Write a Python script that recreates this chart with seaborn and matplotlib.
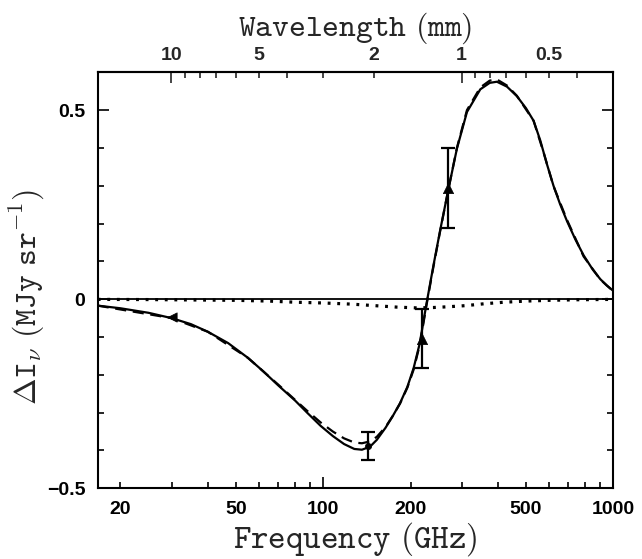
import numpy as np
import pandas as pd
import matplotlib
matplotlib.use("Agg")
import matplotlib.pyplot as plt
import seaborn as sns
from matplotlib.ticker import FixedLocator, FuncFormatter

# ---------------- data ----------------
freq_solid = [16.7, 20, 25, 30, 35, 40, 47, 55, 62, 70, 80, 88, 98, 108, 118, 128,
              136, 145, 153, 164, 174, 184, 195, 205, 215, 227, 240, 253, 270, 289,
              313, 348, 375, 397, 430, 465, 500, 531, 560, 590, 622, 655, 692, 740,
              790, 850, 902, 950, 1000]
dI_solid = [-0.017, -0.024, -0.036, -0.050, -0.066, -0.086, -0.116, -0.155, -0.190,
            -0.228, -0.268, -0.300, -0.335, -0.362, -0.383, -0.396, -0.398, -0.390,
            -0.372, -0.340, -0.308, -0.275, -0.232, -0.182, -0.118, -0.012, 0.090,
            0.182, 0.290, 0.398, 0.495, 0.555, 0.572, 0.575, 0.562, 0.537, 0.505,
            0.472, 0.420, 0.358, 0.300, 0.252, 0.207, 0.158, 0.116, 0.078, 0.053,
            0.036, 0.022]

freq_dashed = [16.7, 30, 40, 55, 70, 88, 98, 108, 118, 128, 136, 145, 153, 164, 174,
               184, 195, 205, 215, 227, 240, 253, 270, 289, 313, 348, 375, 397, 430,
               465, 531, 575, 622, 692, 790, 902, 1000]
dI_dashed = [-0.017, -0.050, -0.086, -0.155, -0.226, -0.295, -0.326, -0.350, -0.368,
             -0.379, -0.381, -0.376, -0.364, -0.338, -0.308, -0.276, -0.234, -0.186,
             -0.122, -0.016, 0.087, 0.180, 0.290, 0.400, 0.500, 0.560, 0.578, 0.581,
             0.565, 0.538, 0.472, 0.388, 0.299, 0.210, 0.113, 0.052, 0.021]

freq_kin = [16.7, 25, 35, 50, 65, 80, 100, 125, 150, 180, 210, 240, 270, 310, 360,
            420, 500, 600, 750, 1000]
dI_kin = [-0.0005, -0.001, -0.002, -0.003, -0.005, -0.008, -0.010, -0.013, -0.017,
          -0.021, -0.023, -0.022, -0.020, -0.017, -0.012, -0.008, -0.005, -0.003,
          -0.0015, -0.0005]

pt_freq = [30, 143, 219, 270]
pt_dI = [-0.048, -0.387, -0.105, 0.293]
pt_err = [0.0, 0.037, 0.078, 0.106]
pt_kind = ["arrow", "dot", "tri", "tri"]

x_ticks_labeled = [20, 50, 100, 200, 500, 1000]
lam_ticks_labeled = [10, 5, 2, 1, 0.5]
y_ticks = [-0.5, 0, 0.5]
y_ticklabels = ["\u22120.5", "0", "0.5"]

C_MM_GHZ = 299.79

# ---------------- style ----------------
sns.set_style("ticks")
plt.rcParams["font.family"] = ["DejaVu Sans"]
plt.rcParams["mathtext.fontset"] = "cm"

fig = plt.figure(figsize=(6.42, 5.59), dpi=100)
ax = fig.add_axes([0.1522, 0.1265, 0.8031, 0.7442])

df_s = pd.DataFrame({"nu": freq_solid, "dI": dI_solid})
df_d = pd.DataFrame({"nu": freq_dashed, "dI": dI_dashed})
df_k = pd.DataFrame({"nu": freq_kin, "dI": dI_kin})

ax.axhline(0, color="black", lw=1.3, zorder=1)
sns.lineplot(data=df_s, x="nu", y="dI", ax=ax, color="black", lw=1.6,
             sort=False, estimator=None, zorder=3)
sns.lineplot(data=df_d, x="nu", y="dI", ax=ax, color="black", lw=1.6,
             linestyle=(0, (5, 3)), sort=False, estimator=None, zorder=3)
sns.lineplot(data=df_k, x="nu", y="dI", ax=ax, color="black", lw=2.3,
             linestyle=(0, (0.9, 2.1)), sort=False, estimator=None, zorder=3)

df_p = pd.DataFrame({"nu": pt_freq, "dI": pt_dI, "err": pt_err, "kind": pt_kind})
marker_map = {"arrow": "<", "dot": "o", "tri": "^"}
size_map = {"arrow": 45, "dot": 20, "tri": 55}
for kind, sub in df_p.groupby("kind"):
    sns.scatterplot(data=sub, x="nu", y="dI", ax=ax, color="black",
                    marker=marker_map[kind], s=size_map[kind], edgecolor="black",
                    linewidth=0.5, zorder=5, legend=False)
eb = df_p[df_p["err"] > 0]
ax.errorbar(eb["nu"], eb["dI"], yerr=eb["err"], fmt="none", ecolor="black",
            elinewidth=1.6, capsize=5, capthick=1.6, zorder=4)

ax.set_xscale("log")
ax.set_xlim(16.7, 1000)
ax.set_ylim(-0.5, 0.6)

# bottom ticks
ax.xaxis.set_major_locator(FixedLocator([100, 1000]))
minor_x = [v * d for d in (10, 100) for v in range(2, 10)]
ax.xaxis.set_minor_locator(FixedLocator(minor_x))
fmt_x = FuncFormatter(lambda v, p: ("%g" % v) if any(abs(v - t) < 1e-6 for t in x_ticks_labeled) else "")
ax.xaxis.set_major_formatter(fmt_x)
ax.xaxis.set_minor_formatter(fmt_x)

ax.yaxis.set_major_locator(FixedLocator(y_ticks))
ax.set_yticklabels(y_ticklabels)
ax.yaxis.set_minor_locator(FixedLocator([-0.4, -0.3, -0.2, -0.1, 0.1, 0.2, 0.3, 0.4, 0.6]))

ax.tick_params(axis="both", which="both", direction="in", colors="black",
               width=1.2, top=False, right=True, labelsize=14)
ax.tick_params(axis="both", which="major", length=8)
ax.tick_params(axis="both", which="minor", length=4)
ax.tick_params(axis="x", which="both", pad=9)
ax.tick_params(axis="y", which="both", pad=9)
for lab in ax.get_xticklabels(which="both") + ax.get_yticklabels():
    lab.set_fontfamily("Liberation Sans")
    lab.set_fontweight("bold")

for s in ax.spines.values():
    s.set_visible(True)
    s.set_linewidth(1.5)
    s.set_color("black")

# top wavelength axis
sec = ax.secondary_xaxis("top", functions=(lambda n: C_MM_GHZ / n, lambda l: C_MM_GHZ / l))
sec.xaxis.set_major_locator(FixedLocator([10, 1]))
sec.xaxis.set_minor_locator(FixedLocator([9, 8, 7, 6, 5, 4, 3, 2, 0.9, 0.8, 0.7, 0.6, 0.5, 0.4, 0.3]))
fmt_l = FuncFormatter(lambda v, p: ("%g" % v) if any(abs(v - t) < 1e-6 for t in lam_ticks_labeled) else "")
sec.xaxis.set_major_formatter(fmt_l)
sec.xaxis.set_minor_formatter(fmt_l)
sec.tick_params(axis="x", which="both", direction="in", width=1.2, labelsize=14, pad=6)
sec.tick_params(axis="x", which="major", length=8)
sec.tick_params(axis="x", which="minor", length=4)
for lab in sec.get_xticklabels(which="both"):
    lab.set_fontfamily("Liberation Sans")
    lab.set_fontweight("bold")
sec.spines["top"].set_linewidth(1.5)
sec.set_xlabel(r"$\mathtt{Wavelength\ (mm)}$", fontsize=23, labelpad=8)

ax.set_xlabel(r"$\mathtt{Frequency\ (GHz)}$", fontsize=24, labelpad=2)
ax.set_ylabel(r"$\Delta \mathtt{I}_{\nu}\ \mathtt{(MJy\ sr}^{\mathtt{-1}}\mathtt{)}$",
              fontsize=23)
ax.yaxis.set_label_coords(-0.098, 0.46)

fig.savefig("out.png", dpi=100)
